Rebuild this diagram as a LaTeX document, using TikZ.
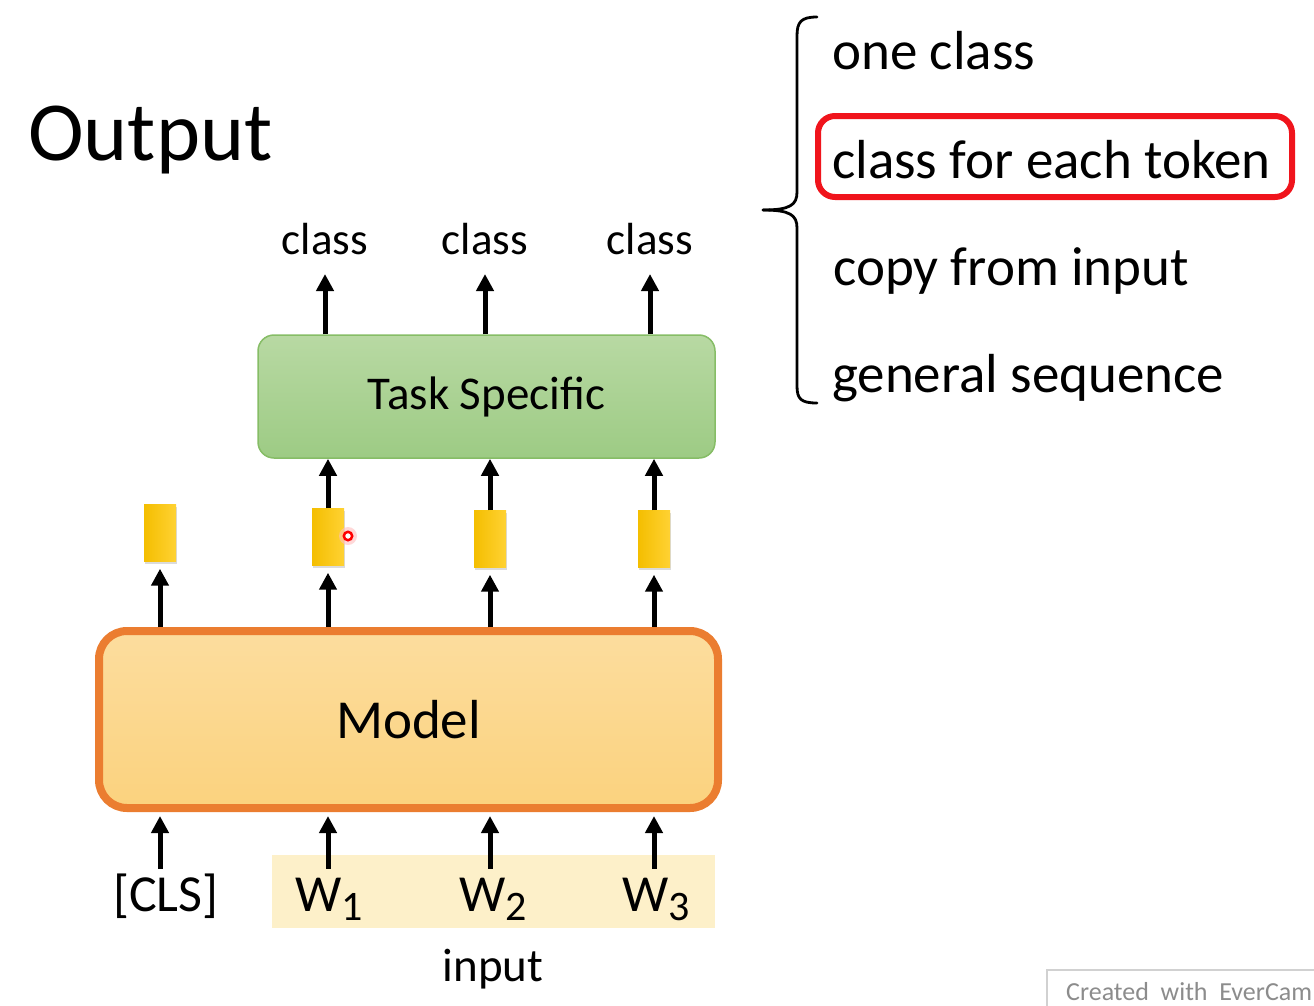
\documentclass[tikz,border=0pt]{standalone}
\usepackage{fontspec}
\setmainfont{Carlito}
\usetikzlibrary{arrows.meta,calc}
\definecolor{taskTop}{HTML}{B8D9A3}
\definecolor{taskBot}{HTML}{9DCB84}
\definecolor{taskLine}{HTML}{86BD66}
\definecolor{modTop}{HTML}{FCDD9E}
\definecolor{modBot}{HTML}{FBD27E}
\definecolor{modLine}{HTML}{EB7D30}
\definecolor{barL}{HTML}{F4BE00}
\definecolor{barR}{HTML}{FFD233}
\definecolor{inFill}{HTML}{FDF0C9}
\definecolor{hiRed}{HTML}{F0141C}
\begin{document}
\begin{tikzpicture}[x=1pt,y=-1pt,
  arr/.style={line width=5pt,-{Triangle[length=17pt,width=17pt]}},
  lbl/.style={inner sep=0pt,anchor=base},
  item/.style={inner sep=0pt,anchor=base west,font=\fontsize{55}{60}\selectfont},
  taskbox/.style={draw=taskLine,line width=1.5pt,rounded corners=16pt,top color=taskTop,bottom color=taskBot,
    minimum width=457pt,minimum height=123pt,inner sep=0pt,font=\fontsize{47}{50}\selectfont},
  modelbox/.style={draw=modLine,line width=8pt,rounded corners=28pt,top color=modTop,bottom color=modBot,
    minimum width=619pt,minimum height=177pt,inner sep=0pt,font=\fontsize{55}{60}\selectfont},
  vec/.style={left color=barL,right color=barR,minimum width=32pt,minimum height=57pt,inner sep=0pt},
  clsl/.style={lbl,font=\fontsize{45}{50}\selectfont},
  tok/.style={lbl,font=\fontsize{52}{56}\selectfont},
]
\useasboundingbox (0,0) rectangle (1314,1005);
\fill[white] (0,0) rectangle (1314,1005);

% title
\node[lbl,anchor=base west,font=\fontsize{84}{90}\selectfont] (title) at (28,160) {Output};

% right list with brace
\draw[line width=2.8pt,line cap=round]
  (817,17) .. controls (801,17) and (797,22) .. (797,36) -- (797,192)
  .. controls (797,205) and (790,210) .. (763,210);
\draw[line width=2.8pt,line cap=round]
  (763,210) .. controls (790,210) and (797,215) .. (797,228) -- (797,386)
  .. controls (797,399) and (801,403) .. (817,403);
\node[item] (o1) at (832,69) {one class};
\node[item] (o2) at (832,178) {class for each token};
\node[item] (o3) at (833,285) {copy from input};
\node[item] (o4) at (832,392) {general sequence};
\draw[hiRed,line width=6pt,rounded corners=17pt] (818,116) rectangle (1292,197);

% task specific
\node[taskbox] (task) at (486.5,396.5) {Task Specific};
\node[clsl] (c1) at (325,254) {class};
\node[clsl] (c2) at (485,254) {class};
\node[clsl] (c3) at (650,254) {class};
\draw[arr] (task.north -| c1) -- ($(c1.base)+(0,20)$);
\draw[arr] (task.north -| c2) -- ($(c2.base)+(0,20)$);
\draw[arr] (task.north -| c3) -- ($(c3.base)+(0,20)$);

% model
\node[modelbox] (model) at (408.5,719.5) {Model};

% vectors (with soft shadow)
\foreach \p/\q in {160/533,328/537,490/539,654/539}{
  \fill[black!14] (\p-15,\q-26) rectangle (\p+17,\q+31);
}
\node[vec] (b1) at (160,533) {};
\node[vec] (b2) at (328,537) {};
\node[vec] (b3) at (490,539) {};
\node[vec] (b4) at (654,539) {};
\foreach \b in {b1,b2,b3,b4}{
  \draw[arr] (model.north -| \b) -- ($(\b.south)+(0,7)$);
}
\foreach \b in {b2,b3,b4}{
  \draw[arr] (\b.north) -- (task.south -| \b);
}

% cursor
\fill[red!25,opacity=0.6] (348,536) circle (9);
\draw[red,line width=2.5pt,fill=white] (348,536) circle (4.2);

% input
\node[fill=inFill,minimum width=443pt,minimum height=73pt,inner sep=0pt] (inbox) at (493.5,891.5) {};
\node[tok] (cls) at (166,911) {[CLS]};
\node[tok] (w1) at (329,911) {W{\fontsize{42}{44}\selectfont\raisebox{-9pt}{1}}};
\node[tok] (w2) at (493,911) {W{\fontsize{42}{44}\selectfont\raisebox{-9pt}{2}}};
\node[tok] (w3) at (656,911) {W{\fontsize{42}{44}\selectfont\raisebox{-9pt}{3}}};
\draw[arr] ($(inbox.north -| b1)+(0,14)$) -- ($(model.south -| b1)+(0,4)$);
\draw[arr] ($(inbox.north -| b2)+(0,14)$) -- ($(model.south -| b2)+(0,4)$);
\draw[arr] ($(inbox.north -| b3)+(0,14)$) -- ($(model.south -| b3)+(0,4)$);
\draw[arr] ($(inbox.north -| b4)+(0,14)$) -- ($(model.south -| b4)+(0,4)$);
\node[lbl,font=\fontsize{47}{50}\selectfont] (inp) at (493,981) {input};

% watermark
\draw[black!18,line width=1.2pt] (1047,970) rectangle (1330,1015);
\node[lbl,anchor=base west,text=black!45,font=\fontsize{26}{28}\selectfont] (wm) at (1066,1000) {Created\ \ with\ \ EverCam};
\end{tikzpicture}
\end{document}
